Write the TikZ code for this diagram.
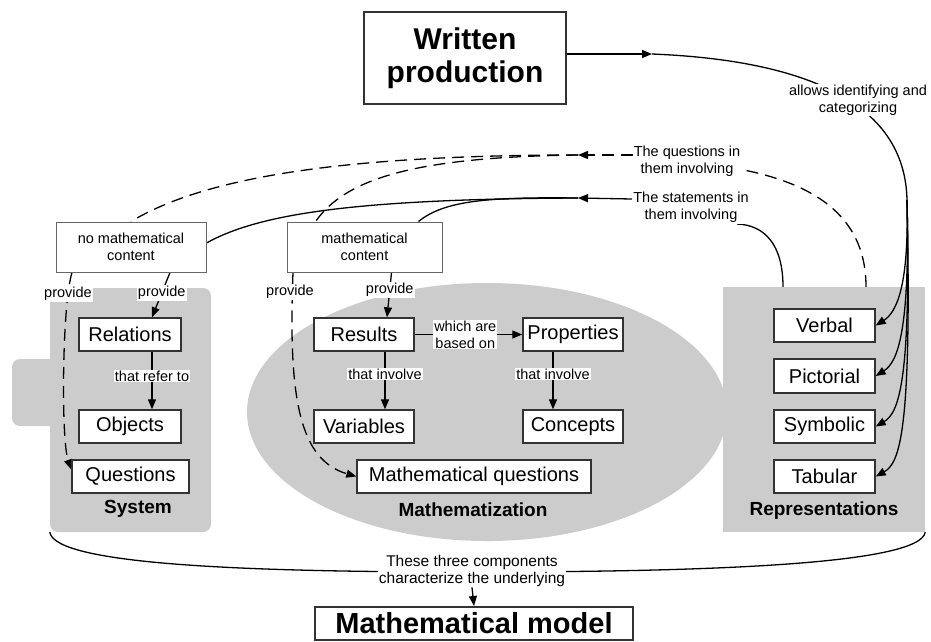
\documentclass[tikz,border=0pt]{standalone}
\usepackage{fontspec}
\setmainfont{Liberation Sans}
\usetikzlibrary{arrows.meta,calc,shapes.geometric}
\pgfdeclarelayer{bg}
\pgfdeclarelayer{lines}
\pgfsetlayers{bg,lines,main}
\definecolor{regiongray}{RGB}{204,204,204}
\definecolor{boxline}{RGB}{51,51,51}
\begin{document}
\begin{tikzpicture}[x=1pt,y=-1pt,
 >={Triangle[length=10pt,width=8pt]},
 box/.style={draw=boxline, line width=1.4pt, fill=white, minimum height=33pt, inner sep=0pt, font=\fontsize{20}{24}\selectfont},
 cbox/.style={draw=black!60, line width=1pt, fill=white, align=center, inner sep=0pt, minimum height=50pt, font=\fontsize{14.5}{17}\selectfont},
 lbl/.style={fill=white, inner sep=1pt, align=center, font=\fontsize{14.5}{17}\selectfont},
 conn/.style={line width=1.3pt},
 dsh/.style={conn, dash pattern=on 12pt off 7pt},
 region/.style={fill=regiongray, draw=none, inner sep=0pt},
 grp/.style={font=\bfseries\fontsize{19}{22}\selectfont}]

\useasboundingbox (0,0) rectangle (931,641);

% ---------- background regions ----------
\begin{pgfonlayer}{bg}
\fill[regiongray, rounded corners=8pt] (12,359) rectangle (70,426);
\node[region, rounded corners=8pt, minimum width=161pt, minimum height=244pt] (sysg) at (130.5,410) {};
\node[region, ellipse, minimum width=480pt, minimum height=258pt] (mathg) at (487,412) {};
\node[region, minimum width=202pt, minimum height=245pt] (repg) at (824,409.5) {};
\end{pgfonlayer}

% ---------- main nodes ----------
\node[box, line width=2pt, minimum width=202pt, minimum height=92pt, align=center,
      font=\bfseries\fontsize{30}{33}\selectfont] (wp) at (465,58) {Written\\production};
\node[box, line width=2pt, minimum width=318pt, minimum height=33pt,
      font=\bfseries\fontsize{29}{33}\selectfont] (mm) at (474,623.5) {Mathematical model};

\node[cbox, minimum width=150pt] (nomath) at (131,247) {no mathematical\\content};
\node[cbox, minimum width=155pt] (mathc) at (364.5,247) {mathematical\\content};

\node[box, minimum width=102pt] (relations) at (130,334.5) {Relations};
\node[box, minimum width=102pt] (objects) at (130,426.5) {Objects};
\node[box, minimum width=117pt] (questions) at (130.5,476.5) {Questions};

\node[box, minimum width=100pt] (results) at (364,334.5) {Results};
\node[box, minimum width=100pt] (properties) at (573,334.5) {Properties};
\node[box, minimum width=100pt] (variables) at (364,426.5) {Variables};
\node[box, minimum width=100pt] (concepts) at (573,426.5) {Concepts};
\node[box, minimum width=234pt] (mathq) at (474,476.5) {Mathematical questions};

\node[box, minimum width=101pt] (verbal) at (824.5,325.5) {Verbal};
\node[box, minimum width=101pt, minimum height=34pt] (pictorial) at (824.5,376) {Pictorial};
\node[box, minimum width=101pt] (symbolic) at (824.5,426.5) {Symbolic};
\node[box, minimum width=101pt] (tabular) at (824.5,476.5) {Tabular};

\node[grp] (systxt) at (138,509) {System};
\node[grp] (mathtxt) at (473,510) {Mathematization};
\node[grp] (reptxt) at (824,511) {Representations};

% ---------- free labels ----------
\node[lbl] (allows) at (858,100) {allows identifying and\\categorizing};
\node[lbl] (qlab) at (687,161.5) {The questions in\\them involving};
\node[lbl] (slab) at (691,207.5) {The statements in\\them involving};
\node[lbl] (prov1) at (68,294) {provide};
\node[lbl] (prov3) at (290,292) {provide};
\node[lbl, font=\fontsize{15.5}{17}\selectfont] (bl) at (472,570.5) {These three components\\characterize the underlying};

\coordinate (wpa) at (652,54);
\coordinate (hub) at (907,200);
\coordinate (qa) at (578,155);
\coordinate (sa) at (578,198);
\coordinate (bc) at (472,572);

% ---------- connectors ----------
\begin{pgfonlayer}{lines}
% written production -> representations
\draw[conn,->] ([yshift=4pt]wp.east) -- (wpa);
\draw[conn] (wpa) .. controls (800,60) and (905,100) .. (hub);
\draw[conn,->] (hub) .. controls (909,285) and (897,312) .. (verbal.east);
\draw[conn,->] (hub) .. controls (910,330) and (898,362) .. (pictorial.east);
\draw[conn,->] (hub) .. controls (911,380) and (899,413) .. (symbolic.east);
\draw[conn,->] (hub) .. controls (912,430) and (900,463) .. (tabular.east);

% questions (dashed)
\draw[dsh] ([xshift=42pt]repg.north) .. controls (866,220) and (820,185) .. ([yshift=-8pt]qlab.east);
\draw[dsh,->] ([yshift=6.5pt]qlab.west) -- (qa);
\draw[dsh] (qa) .. controls (330,155) and (200,180) .. (nomath.north);
\draw[dsh] (qa) .. controls (410,157) and (345,180) .. ([xshift=-49pt]mathc.north);

% statements (solid)
\draw[conn] ([xshift=-41pt]repg.north) .. controls (783,245) and (765,225) .. ([xshift=-13pt]slab.south east);
\draw[conn,->] ([yshift=8.5pt]slab.west) -- (sa);
\draw[conn] (sa) .. controls (360,199) and (260,213) .. ([yshift=4pt]nomath.east);
\draw[conn] (sa) .. controls (490,197) and (445,200) .. ([xshift=54pt]mathc.north);

% provide
\draw[conn,->] ([xshift=39pt]nomath.south) -- ([xshift=22pt]relations.north)
  node[lbl, pos=0.46] (prov2) {provide};
\draw[dsh,->] ([xshift=-59pt]nomath.south) .. controls (62,305) and (61,440) .. ([yshift=7pt]questions.west);
\draw[conn,->] ([xshift=27pt]mathc.south) -- ([xshift=23pt]results.north)
  node[lbl, pos=0.39] (prov4) {provide};
\draw[dsh,->] ([xshift=-71.5pt]mathc.south) .. controls (288,400) and (300,460) .. (mathq.west);

% internal relations
\draw[conn,->] ([xshift=22pt]relations.south) -- ([xshift=22pt]objects.north)
  node[lbl, pos=0.42] (refer) {that refer to};
\draw[conn,->] ([xshift=21pt]results.south) -- ([xshift=21pt]variables.north)
  node[lbl, pos=0.39] (inv1) {that involve};
\draw[conn,->] ([xshift=-20pt]properties.south) -- ([xshift=-20pt]concepts.north)
  node[lbl, pos=0.39] (inv2) {that involve};
\draw[conn,->] (results.east) -- (properties.west)
  node[lbl, pos=0.47] (based) {which are\\based on};

% bottom brace
\draw[conn] (sysg.south west) .. controls (55,565) and (250,572) .. (bc)
  .. controls (700,572) and (920,565) .. (repg.south east);
\draw[conn,->] (bl.south) -- (mm.north);
\end{pgfonlayer}
\end{tikzpicture}
\end{document}
